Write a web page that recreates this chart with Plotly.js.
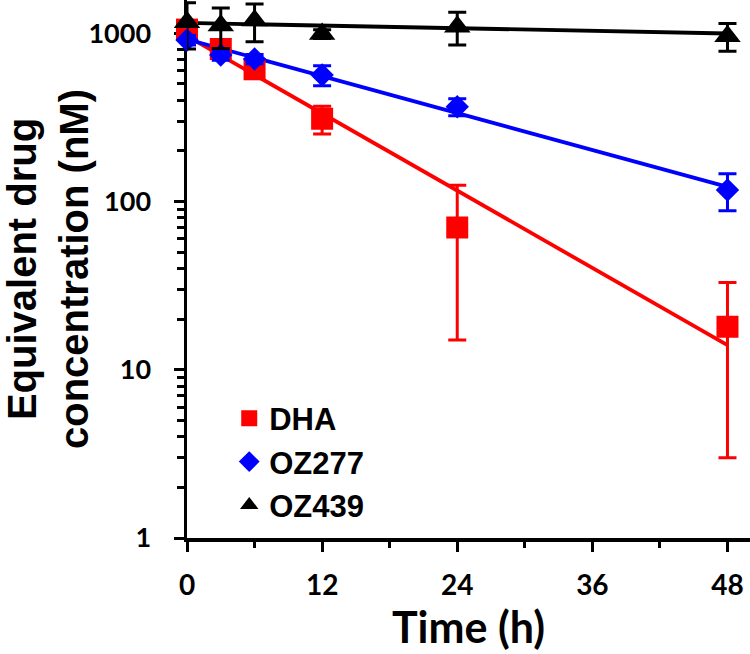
<!DOCTYPE html>
<html>
<head>
<meta charset="utf-8">
<script src="https://cdn.plot.ly/plotly-3.0.1.min.js"></script>
<style>
  html, body { margin: 0; padding: 0; background: #fff; }
  #chart { width: 750px; height: 654px; }
</style>
</head>
<body>
<div id="chart"></div>
<script>
// ---- Data ----
const times = [0, 3, 6, 12, 24, 48];

const dhaValues   = [1050, 805, 610, 310, 70, 18];
const dhaErrors   = [110, 90, 60, 58, 55, 15];

const oz277Values = [910, 741, 702, 564, 365, 117];
const oz277Errors = [60, 50, 45, 77, 42, 29];

const oz439Values = [1160, 1110, 1190, 988, 1090, 960];
const oz439Errors = [355, 300, 300, 60, 240, 180];

// fitted (mono-exponential) lines, end points
const fitTimes  = [0, 48];
const dhaFit    = [960, 14];
const oz277Fit  = [920, 122];
const oz439Fit  = [1150, 995];

const seriesNames = ['DHA', 'OZ277', 'OZ439'];

const xTickVals  = [0, 12, 24, 36, 48];
const xMinorVals = [6, 18, 30, 42];
const yTickVals  = [1, 10, 100, 1000];
const yTickText  = ['1', '10', '100', '1000'];
const yMinorVals = [2,3,4,5,6,7,8,9, 20,30,40,50,60,70,80,90, 200,300,400,500,600,700,800,900];

// ---- Styling ----
const RED = '#ff0000', BLUE = '#0000ff', BLACK = '#000000';
const CAL = 'Lato, "Open Sans", sans-serif';
const ARI = '"Liberation Sans", Arial, sans-serif';

function fitTrace(y, color) {
  return {
    x: fitTimes, y: y, type: 'scatter', mode: 'lines',
    line: { color: color, width: 3.8 },
    showlegend: false, hoverinfo: 'skip'
  };
}
function pointTrace(name, y, err, color, symbol, size) {
  return {
    x: times, y: y, name: name, type: 'scatter', mode: 'markers',
    cliponaxis: false,
    marker: { color: color, symbol: symbol, size: size, line: { width: 0 } },
    error_y: { type: 'data', array: err, visible: true, color: color, thickness: 3, width: 9 }
  };
}

const data = [
  fitTrace(dhaFit, RED),
  fitTrace(oz277Fit, BLUE),
  fitTrace(oz439Fit, BLACK),
  pointTrace(seriesNames[0], dhaValues, dhaErrors, RED, 'square', 22),
  pointTrace(seriesNames[1], oz277Values, oz277Errors, BLUE, 'diamond', 18),
  pointTrace(seriesNames[2], oz439Values, oz439Errors, BLACK, 'triangle-up', 23)
];

const layout = {
  width: 750, height: 654,
  margin: { l: 187, r: 0, t: 0, b: 116, pad: 0 },
  paper_bgcolor: '#ffffff', plot_bgcolor: '#ffffff',
  showlegend: true,
  legend: {
    x: 0.075, xanchor: 'left', y: 0.272, yanchor: 'top',
    bgcolor: 'rgba(0,0,0,0)', borderwidth: 0,
    font: { family: ARI, size: 31, weight: 700, color: BLACK },
    itemsizing: 'trace'
  },
  xaxis: {
    range: [0, 50],
    showgrid: false, zeroline: false,
    showline: true, linecolor: BLACK, linewidth: 3.5,
    layer: 'below traces',
    tickmode: 'array', tickvals: xTickVals,
    ticks: 'outside', ticklen: 10, tickwidth: 3, tickcolor: BLACK,
    ticklabelstandoff: 10,
    tickfont: { family: CAL, size: 28, weight: 700, color: BLACK },
    minor: { tickmode: 'array', tickvals: xMinorVals, ticks: 'outside', ticklen: 6, tickwidth: 3, tickcolor: BLACK, showgrid: false },
    title: { text: 'Time (h)', font: { family: CAL, size: 43, weight: 700, color: BLACK }, standoff: 9 }
  },
  yaxis: {
    type: 'log',
    range: [0, 3.197],
    showgrid: false, zeroline: false,
    showline: true, linecolor: BLACK, linewidth: 3.5,
    layer: 'below traces',
    tickmode: 'array', tickvals: yTickVals, ticktext: yTickText,
    ticks: 'outside', ticklen: 10, tickwidth: 3, tickcolor: BLACK,
    ticklabelstandoff: 17,
    tickfont: { family: CAL, size: 27, weight: 700, color: BLACK },
    minor: { tickmode: 'array', tickvals: yMinorVals, ticks: 'outside', ticklen: 7, tickwidth: 3, tickcolor: BLACK, showgrid: false },
    title: { text: 'Equivalent drug<br>concentration (nM)', font: { family: ARI, size: 40, weight: 700, color: BLACK }, standoff: 8 }
  }
};

Plotly.newPlot('chart', data, layout, { displayModeBar: false, staticPlot: true });
</script>
</body>
</html>
